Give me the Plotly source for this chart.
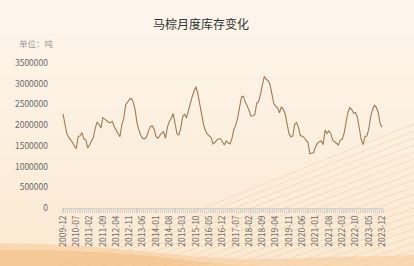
import plotly.graph_objects as go
import pandas as pd

# ---- data ----
start_month = "2009-12"
end_month = "2023-12"
months = pd.period_range(start_month, end_month, freq="M").strftime("%Y-%m").tolist()

stock_mt = [
    2.27, 2.00, 1.80, 1.71, 1.65, 1.58, 1.50, 1.43, 1.72, 1.74,
    1.82, 1.67, 1.65, 1.45, 1.52, 1.62, 1.70, 1.93, 2.07, 2.02,
    1.93, 2.18, 2.14, 2.10, 2.07, 2.06, 2.09, 1.96, 1.87, 1.78,
    1.72, 2.02, 2.15, 2.49, 2.56, 2.62, 2.65, 2.55, 2.37, 2.05,
    1.88, 1.75, 1.68, 1.67, 1.72, 1.85, 1.97, 1.98, 1.90, 1.72,
    1.68, 1.75, 1.81, 1.84, 1.68, 1.95, 2.09, 2.16, 2.28, 2.05,
    1.80, 1.76, 1.92, 2.20, 2.27, 2.17, 2.36, 2.53, 2.68, 2.82,
    2.93, 2.76, 2.49, 2.24, 2.02, 1.87, 1.78, 1.74, 1.70, 1.55,
    1.58, 1.64, 1.67, 1.67, 1.58, 1.52, 1.62, 1.57, 1.55, 1.68,
    1.90, 2.00, 2.18, 2.42, 2.68, 2.70, 2.55, 2.47, 2.32, 2.22,
    2.22, 2.25, 2.53, 2.56, 2.75, 2.97, 3.18, 3.10, 3.08, 2.98,
    2.78, 2.52, 2.46, 2.42, 2.30, 2.44, 2.38, 2.27, 2.03, 1.80,
    1.72, 1.74, 2.02, 2.06, 1.94, 1.75, 1.73, 1.70, 1.63, 1.58,
    1.31, 1.33, 1.34, 1.48, 1.56, 1.60, 1.62, 1.53, 1.88, 1.80,
    1.86, 1.80, 1.64, 1.60, 1.56, 1.52, 1.64, 1.66, 1.80, 2.10,
    2.30, 2.42, 2.38, 2.29, 2.30, 2.20, 1.90, 1.66, 1.53, 1.72,
    1.74, 1.90, 2.20, 2.38, 2.48, 2.43, 2.30, 2.04, 1.95,
]
stock_tonnes = [round(v * 1_000_000) for v in stock_mt]

y_ticks = [0, 500000, 1000000, 1500000, 2000000, 2500000, 3000000, 3500000]
label_step = 7

title_text = "马棕月度库存变化"
unit_text = "单位：吨"

# ---- geometry helpers (pixel -> paper) ----
W, H = 414, 266
L, R, T, B = 62, 31, 63, 58
PW, PH = W - L - R, H - T - B


def px(x):
    return (x - L) / PW


def py(y):
    return (H - B - y) / PH


FONT = "Noto Sans CJK SC, Noto Sans, sans-serif"

idx = list(range(len(months)))
fig = go.Figure()
fig.add_trace(go.Scatter(
    x=idx, y=stock_tonnes, mode="lines",
    line=dict(color="#a27a52", width=1.1),
    hoverinfo="skip", showlegend=False,
))

shapes = []
# background gradient bands
top_c = (253, 246, 236)
bot_c = (251, 233, 210)
n = 24
for i in range(n):
    t = i / (n - 1)
    c = tuple(round(top_c[k] + (bot_c[k] - top_c[k]) * t) for k in range(3))
    y0 = H * i / n
    y1 = H * (i + 1) / n + 1
    shapes.append(dict(type="rect", xref="paper", yref="paper",
                       x0=px(0), x1=px(W), y0=py(y1), y1=py(y0),
                       fillcolor="rgb(%d,%d,%d)" % c, line=dict(width=0), layer="below"))

# diagonal fine lines
for i in range(22):
    yr = 124 + i * 7
    slope = 0.40 - i * 0.004
    xl = W - (H + 4 - yr) / slope
    shapes.append(dict(type="line", xref="paper", yref="paper",
                       x0=px(xl), y0=py(H + 4), x1=px(W), y1=py(yr),
                       line=dict(color="rgba(236,190,140,0.6)", width=0.6), layer="below"))


def path_from(points):
    s = "M %f,%f" % (px(points[0][0]), py(points[0][1]))
    for (x, y) in points[1:]:
        s += " L %f,%f" % (px(x), py(y))
    return s + " Z"


# bottom orange waves
wave1 = [(0, 243), (40, 244), (80, 246), (120, 249), (160, 253), (200, 257), (240, 259),
         (280, 259), (330, 257), (380, 256), (414, 255), (414, 266), (0, 266)]
shapes.append(dict(type="path", xref="paper", yref="paper", path=path_from(wave1),
                   fillcolor="rgba(246,200,150,0.55)", line=dict(width=0), layer="below"))
wave2 = [(0, 250), (50, 250), (100, 252), (150, 256), (200, 262), (240, 265), (260, 266), (0, 266)]
shapes.append(dict(type="path", xref="paper", yref="paper", path=path_from(wave2),
                   fillcolor="rgba(243,185,125,0.45)", line=dict(width=0), layer="below"))
wave3 = [(180, 266), (240, 262), (300, 260), (360, 261), (414, 262), (414, 266)]
shapes.append(dict(type="path", xref="paper", yref="paper", path=path_from(wave3),
                   fillcolor="rgba(250,215,175,0.5)", line=dict(width=0), layer="below"))

tick_pos = idx[::label_step]
tick_txt = months[::label_step]

fig.update_layout(
    width=W, height=H,
    margin=dict(l=L, r=R, t=T, b=B),
    paper_bgcolor="#fdf4e8",
    plot_bgcolor="rgba(0,0,0,0)",
    font=dict(family=FONT, color="#666", size=9),
    shapes=shapes,
    title=dict(text=title_text, x=px(201), xref="paper", xanchor="center",
               y=1 - 25 / H, yanchor="middle",
               font=dict(size=12, color="#333", family=FONT)),
    annotations=[dict(text=unit_text, xref="paper", yref="paper",
                      x=px(17), y=py(43), xanchor="left", yanchor="middle",
                      showarrow=False, font=dict(size=8.5, color="#999", family=FONT))],
    xaxis=dict(
        range=[-0.5, len(months) - 0.5],
        tickmode="array", tickvals=tick_pos, ticktext=tick_txt,
        tickangle=-90, ticks="", showgrid=False, zeroline=False,
        showline=True, linecolor="#d4d0cc", linewidth=1,
        tickfont=dict(size=8.5, color="#6b6b6b"),
        ticklabelstandoff=3,
        minor=dict(ticks="outside", tick0=-0.5, dtick=1, ticklen=4,
                   tickcolor="#d4d0cc", tickwidth=1, showgrid=False),
        fixedrange=True,
    ),
    yaxis=dict(
        range=[0, 3500000], tickmode="array", tickvals=y_ticks,
        ticktext=[str(v) for v in y_ticks],
        showgrid=False, zeroline=False, showline=False, ticks="",
        ticklabelstandoff=13,
        tickfont=dict(size=8.5, color="#6b6b6b"),
        fixedrange=True,
    ),
)

fig.write_html("out.html")
